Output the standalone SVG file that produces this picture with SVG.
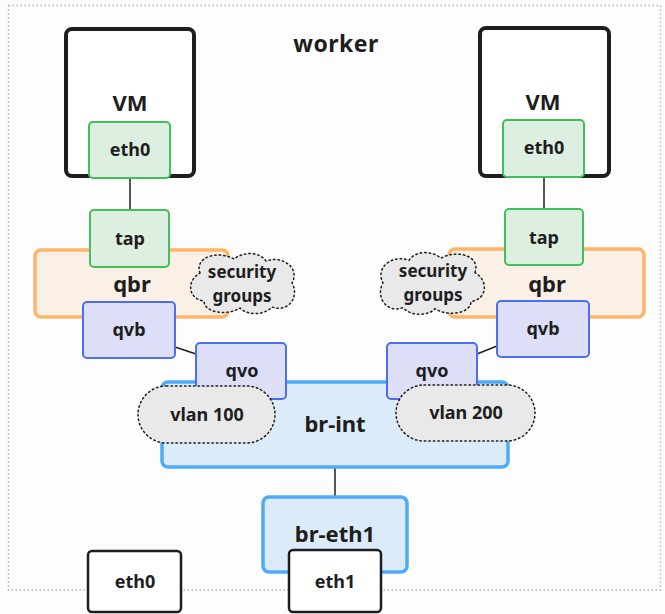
<svg xmlns="http://www.w3.org/2000/svg" width="665" height="614" viewBox="0 0 665 614">
  <style>
    text { font-family: "Noto Sans", "Liberation Sans", sans-serif; font-weight: 700; fill: #1e1e1e; text-anchor: middle; }
    .vm { fill: #ffffff; stroke: #1e1e1e; stroke-width: 4; }
    .nic { fill: #ddefe0; stroke: #40c057; stroke-width: 2; }
    .qbr { fill: #fbf0e5; stroke: #ffb46a; stroke-width: 3.5; }
    .veth { fill: #dcdff7; stroke: #4c6ef5; stroke-width: 2; }
    .bridge { fill: #dcebf9; stroke: #4dabf7; stroke-width: 3.5; }
    .phys { fill: #ffffff; stroke: #1e1e1e; stroke-width: 2.5; }
    .cloud { fill: #e9e9e9; stroke: #1e1e1e; stroke-width: 1.5; stroke-dasharray: 1.5 3; stroke-linecap: round; }
    .link { stroke: #1e1e1e; stroke-width: 1.5; fill: none; }
    .t17 { font-size: 17px; }
    .t18 { font-size: 18px; }
    .t22 { font-size: 22px; }
  </style>
  <defs>
    <!-- two-lobed cloud outline, 108 x 60 -->
    <path id="cloud" d="M 12,20 C 6,4 30,-3 46,6 C 56,-2 72,-1 78,8 C 96,2 112,16 104,30 C 112,44 100,60 84,54 C 76,63 58,62 52,55 C 40,63 16,60 16,48 C 0,46 -2,28 12,20 Z"/>
  </defs>

  <rect width="665" height="614" fill="#fdfdfd"/>

  <!-- worker host boundary -->
  <g id="worker">
    <rect x="8.5" y="5.5" width="652" height="584.5" fill="none" stroke="#b4b4b4" stroke-width="1.5" stroke-dasharray="1.5 2.5"/>
    <text x="336" y="52" font-size="23" letter-spacing="0.5">worker</text>
  </g>

  <!-- connectors -->
  <g id="connectors">
    <line class="link" x1="130" y1="178" x2="130" y2="210"/>
    <line class="link" x1="544" y1="178" x2="544" y2="209"/>
    <line class="link" x1="175" y1="347" x2="196" y2="354"/>
    <line class="link" x1="477" y1="354" x2="497" y2="346"/>
    <line class="link" x1="335" y1="467" x2="335" y2="497"/>
  </g>

  <!-- left VM -->
  <g id="vm-left">
    <rect class="vm" x="66" y="29" width="128" height="147" rx="6"/>
    <text class="t22" x="130" y="111">VM</text>
  </g>
  <g id="vm-left-eth0">
    <rect class="nic" x="89" y="122" width="81" height="56" rx="4"/>
    <text class="t18" x="130" y="156">eth0</text>
  </g>

  <!-- right VM -->
  <g id="vm-right">
    <rect class="vm" x="480" y="28" width="129" height="148" rx="6"/>
    <text class="t22" x="543" y="110">VM</text>
  </g>
  <g id="vm-right-eth0">
    <rect class="nic" x="503" y="120" width="81" height="57" rx="4"/>
    <text class="t18" x="544" y="154">eth0</text>
  </g>

  <!-- left linux bridge -->
  <g id="qbr-left">
    <rect class="qbr" x="35" y="250" width="193" height="67" rx="6"/>
    <text class="t22" x="132" y="292">qbr</text>
  </g>
  <g id="tap-left">
    <rect class="nic" x="90" y="210" width="79" height="57" rx="4"/>
    <text class="t18" x="130" y="245">tap</text>
  </g>
  <g id="sg-left">
    <use href="#cloud" class="cloud" transform="translate(188,253)"/>
    <text class="t17" x="242" y="278">security</text>
    <text class="t17" x="242" y="302">groups</text>
  </g>
  <g id="qvb-left">
    <rect class="veth" x="83" y="302" width="92" height="56" rx="4"/>
    <text class="t18" x="129" y="336">qvb</text>
  </g>

  <!-- right linux bridge -->
  <g id="qbr-right">
    <rect class="qbr" x="449" y="249" width="195" height="68" rx="6"/>
    <text class="t22" x="547" y="292">qbr</text>
  </g>
  <g id="tap-right">
    <rect class="nic" x="505" y="209" width="78" height="56" rx="4"/>
    <text class="t18" x="544" y="244">tap</text>
  </g>
  <g id="sg-right">
    <use href="#cloud" class="cloud" transform="translate(487,252) scale(-1,1.03)"/>
    <text class="t17" x="433" y="277">security</text>
    <text class="t17" x="433" y="301">groups</text>
  </g>
  <g id="qvb-right">
    <rect class="veth" x="497" y="301" width="92" height="56" rx="4"/>
    <text class="t18" x="543" y="335">qvb</text>
  </g>

  <!-- integration bridge -->
  <g id="br-int">
    <rect class="bridge" x="162" y="382" width="346" height="85" rx="6"/>
    <text class="t22" x="335" y="432">br-int</text>
  </g>
  <g id="qvo-left">
    <rect class="veth" x="196" y="343" width="90" height="56" rx="4"/>
    <text class="t18" x="242" y="377">qvo</text>
  </g>
  <g id="qvo-right">
    <rect class="veth" x="387" y="343" width="90" height="56" rx="4"/>
    <text class="t18" x="432" y="377">qvo</text>
  </g>
  <g id="vlan-100">
    <rect class="cloud" x="138" y="386" width="137" height="57" rx="28.5"/>
    <text class="t18" x="207" y="421">vlan 100</text>
  </g>
  <g id="vlan-200">
    <rect class="cloud" x="396" y="385" width="139" height="56" rx="28"/>
    <text class="t18" x="466" y="419">vlan 200</text>
  </g>

  <!-- provider bridge -->
  <g id="br-eth1">
    <rect class="bridge" x="263" y="497" width="144" height="75" rx="6"/>
    <text class="t22" x="335" y="542">br-eth1</text>
  </g>

  <!-- physical interfaces -->
  <g id="eth0">
    <rect class="phys" x="88" y="551" width="93" height="61" rx="4"/>
    <text class="t18" x="135" y="588">eth0</text>
  </g>
  <g id="eth1">
    <rect class="phys" x="289" y="550" width="92" height="62" rx="4"/>
    <text class="t18" x="335" y="588">eth1</text>
  </g>
</svg>
